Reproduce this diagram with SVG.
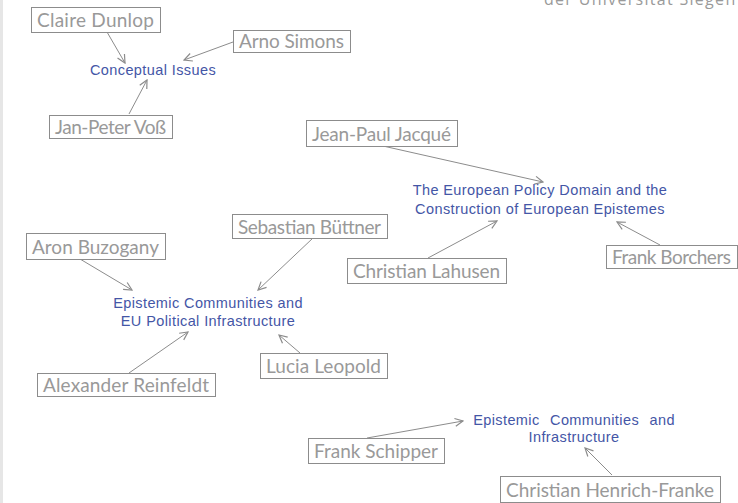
<svg xmlns="http://www.w3.org/2000/svg" width="738" height="503" viewBox="0 0 738 503">
<style>
.box{fill:#fff;stroke:#8c8c8c;stroke-width:1}
.name{font-family:Lato,"Open Sans",sans-serif;font-size:19px;fill:#999}
.topic{font-family:"Liberation Sans",Arial,sans-serif;font-size:14.5px;fill:#4456a6;letter-spacing:0.4px;text-anchor:middle}
.edge{stroke:#8c8c8c;stroke-width:1;fill:none;marker-end:url(#arr)}
</style>
<defs>
<marker id="arr" viewBox="0 0 10 10" refX="9" refY="5" markerWidth="10" markerHeight="10" markerUnits="userSpaceOnUse" orient="auto">
<path d="M1,1 L9,5 L1,9" fill="none" stroke="#8c8c8c" stroke-width="1.2"/>
</marker>
</defs>
<rect x="0" y="0" width="738" height="503" fill="#fff"/>
<rect x="0" y="0" width="3" height="503" fill="#e6e6e6"/>
<text x="544" y="5" font-family="'Open Sans',sans-serif" font-size="16" fill="#9a9a9a" letter-spacing="1.3">der Universität Siegen</text>

<g id="connectors">
<line class="edge" x1="107" y1="32" x2="125" y2="63"/>
<line class="edge" x1="233" y1="42" x2="184" y2="60"/>
<line class="edge" x1="129" y1="114" x2="147" y2="80"/>
<line class="edge" x1="383" y1="146" x2="543" y2="182"/>
<line class="edge" x1="428" y1="258" x2="497" y2="221"/>
<line class="edge" x1="660" y1="245" x2="617" y2="222"/>
<line class="edge" x1="313" y1="238" x2="258" y2="290"/>
<line class="edge" x1="80" y1="259" x2="132" y2="290"/>
<line class="edge" x1="129" y1="373" x2="188" y2="332"/>
<line class="edge" x1="300" y1="353" x2="279" y2="335"/>
<line class="edge" x1="367" y1="438" x2="463" y2="421"/>
<line class="edge" x1="612" y1="475" x2="585" y2="448"/>
</g>

<g id="topic-conceptual"><text class="topic" x="153" y="75">Conceptual Issues</text></g>
<g id="topic-european"><text class="topic" x="540" y="195">The European Policy Domain and the</text><text class="topic" x="540" y="214">Construction of European Epistemes</text></g>
<g id="topic-eu"><text class="topic" x="208" y="308">Epistemic Communities and</text><text class="topic" x="208" y="326">EU Political Infrastructure</text></g>
<g id="topic-infra"><text class="topic" x="574" y="425" word-spacing="6">Epistemic Communities and</text><text class="topic" x="574" y="442">Infrastructure</text></g>

<g id="n-dunlop"><rect class="box" x="31.5" y="7.5" width="129" height="25"/><text class="name" x="37" y="27" textLength="117" lengthAdjust="spacing">Claire Dunlop</text></g>
<g id="n-simons"><rect class="box" x="233.5" y="30.5" width="117" height="22"/><text class="name" x="239" y="48" textLength="105" lengthAdjust="spacing">Arno Simons</text></g>
<g id="n-voss"><rect class="box" x="49.5" y="115.5" width="123" height="23"/><text class="name" x="55" y="134" textLength="111" lengthAdjust="spacing">Jan-Peter Voß</text></g>
<g id="n-jacque"><rect class="box" x="306.5" y="120.5" width="151" height="26"/><text class="name" x="312" y="141" textLength="139" lengthAdjust="spacing">Jean-Paul Jacqué</text></g>
<g id="n-borchers"><rect class="box" x="606.5" y="245.5" width="131" height="23"/><text class="name" x="612" y="264" textLength="119" lengthAdjust="spacing">Frank Borchers</text></g>
<g id="n-lahusen"><rect class="box" x="347.5" y="258.5" width="159" height="25"/><text class="name" x="353" y="278" textLength="147" lengthAdjust="spacing">Christian Lahusen</text></g>
<g id="n-buettner"><rect class="box" x="232.5" y="214.5" width="155" height="24"/><text class="name" x="238" y="234" textLength="143" lengthAdjust="spacing">Sebastian Büttner</text></g>
<g id="n-buzogany"><rect class="box" x="26.5" y="233.5" width="139" height="26"/><text class="name" x="32" y="254" textLength="127" lengthAdjust="spacing">Aron Buzogany</text></g>
<g id="n-leopold"><rect class="box" x="260.5" y="353.5" width="127" height="25"/><text class="name" x="266" y="373" textLength="115" lengthAdjust="spacing">Lucia Leopold</text></g>
<g id="n-reinfeldt"><rect class="box" x="37.5" y="373.5" width="178" height="23"/><text class="name" x="43" y="392" textLength="166" lengthAdjust="spacing">Alexander Reinfeldt</text></g>
<g id="n-schipper"><rect class="box" x="308.5" y="438.5" width="136" height="25"/><text class="name" x="314" y="458" textLength="124" lengthAdjust="spacing">Frank Schipper</text></g>
<g id="n-henrich"><rect class="box" x="500.5" y="476.5" width="220" height="26"/><text class="name" x="506" y="497" textLength="208" lengthAdjust="spacing">Christian Henrich-Franke</text></g>
</svg>
